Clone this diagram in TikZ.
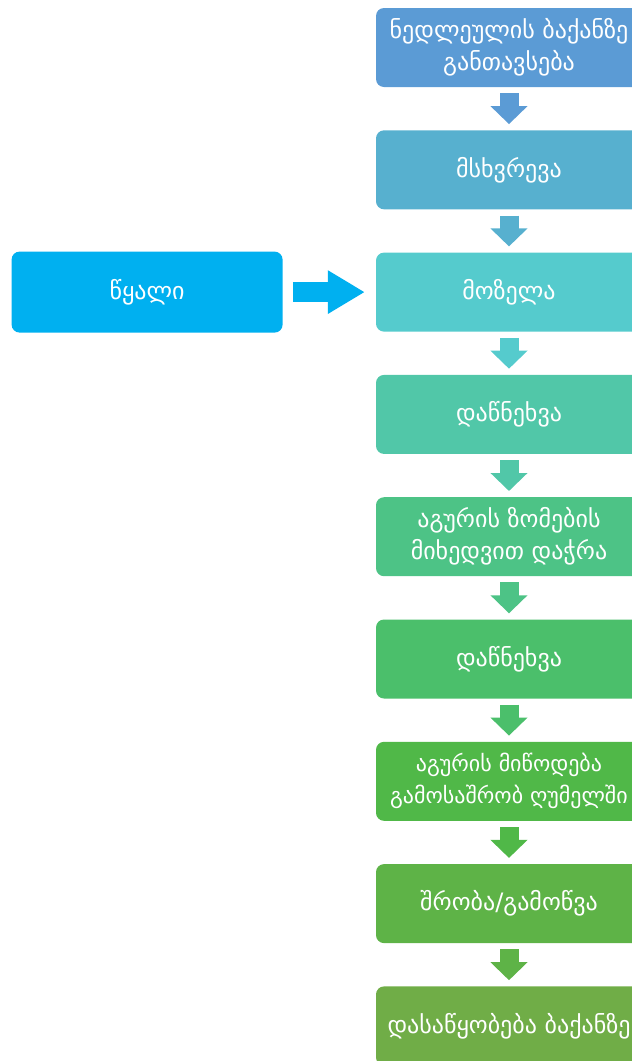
\documentclass[tikz,border=0pt]{standalone}
\usepackage{fontspec}
\setmainfont{DejaVu Sans}
\usetikzlibrary{positioning,arrows.meta}
\definecolor{stepA}{HTML}{5B9BD5}
\definecolor{stepB}{HTML}{57B0CF}
\definecolor{stepC}{HTML}{55CBCD}
\definecolor{stepD}{HTML}{51C7A8}
\definecolor{stepE}{HTML}{4DC386}
\definecolor{stepF}{HTML}{4BBF6B}
\definecolor{stepG}{HTML}{50B848}
\definecolor{stepH}{HTML}{5EB347}
\definecolor{stepI}{HTML}{70AD47}
\definecolor{waterblue}{HTML}{00B0F0}
\begin{document}
\begin{tikzpicture}[x=1pt,y=1pt,
    stepbox/.style={rectangle,rounded corners=8pt,minimum width=266pt,minimum height=79pt,
      align=center,text=white,inner sep=0pt,font=\fontsize{24}{32}\selectfont},
    downarrow/.style={line width=19pt,-{Triangle[width=36pt,length=18pt]},
      shorten <=6pt,shorten >=6pt}]
    \useasboundingbox (0,0) rectangle (632,-1061);
    \node[stepbox,fill=stepA](b1) at (509,-47.5){ნედლეულის ბაქანზე\\განთავსება};
    \node[stepbox,fill=stepB,below=42.9pt of b1](b2){მსხვრევა};
    \node[stepbox,fill=stepC,below=42.9pt of b2](b3){მოზელა};
    \node[stepbox,fill=stepD,below=42.9pt of b3](b4){დაწნეხვა};
    \node[stepbox,fill=stepE,below=42.9pt of b4](b5){აგურის ზომების\\მიხედვით დაჭრა};
    \node[stepbox,fill=stepF,below=42.9pt of b5](b6){დაწნეხვა};
    \node[stepbox,fill=stepG,below=42.9pt of b6,font=\fontsize{22}{32}\selectfont](b7){აგურის მიწოდება\\გამოსაშრობ ღუმელში};
    \node[stepbox,fill=stepH,below=42.9pt of b7](b8){შრობა/გამოწვა};
    \node[stepbox,fill=stepI,below=42.9pt of b8](b9){დასაწყობება ბაქანზე};
    \node[stepbox,fill=waterblue,minimum width=271pt,minimum height=81pt,left=93pt of b3](water){წყალი};
    \foreach \a/\b/\c in {b1/b2/stepA,b2/b3/stepB,b3/b4/stepC,b4/b5/stepD,
      b5/b6/stepE,b6/b7/stepF,b7/b8/stepG,b8/b9/stepH}
      \draw[downarrow,\c] (\a) -- (\b);
    \draw[line width=20pt,-{Triangle[width=41pt,length=37pt]},shorten <=10pt,shorten >=11pt,
      waterblue] (water) -- (b3);
\end{tikzpicture}
\end{document}
